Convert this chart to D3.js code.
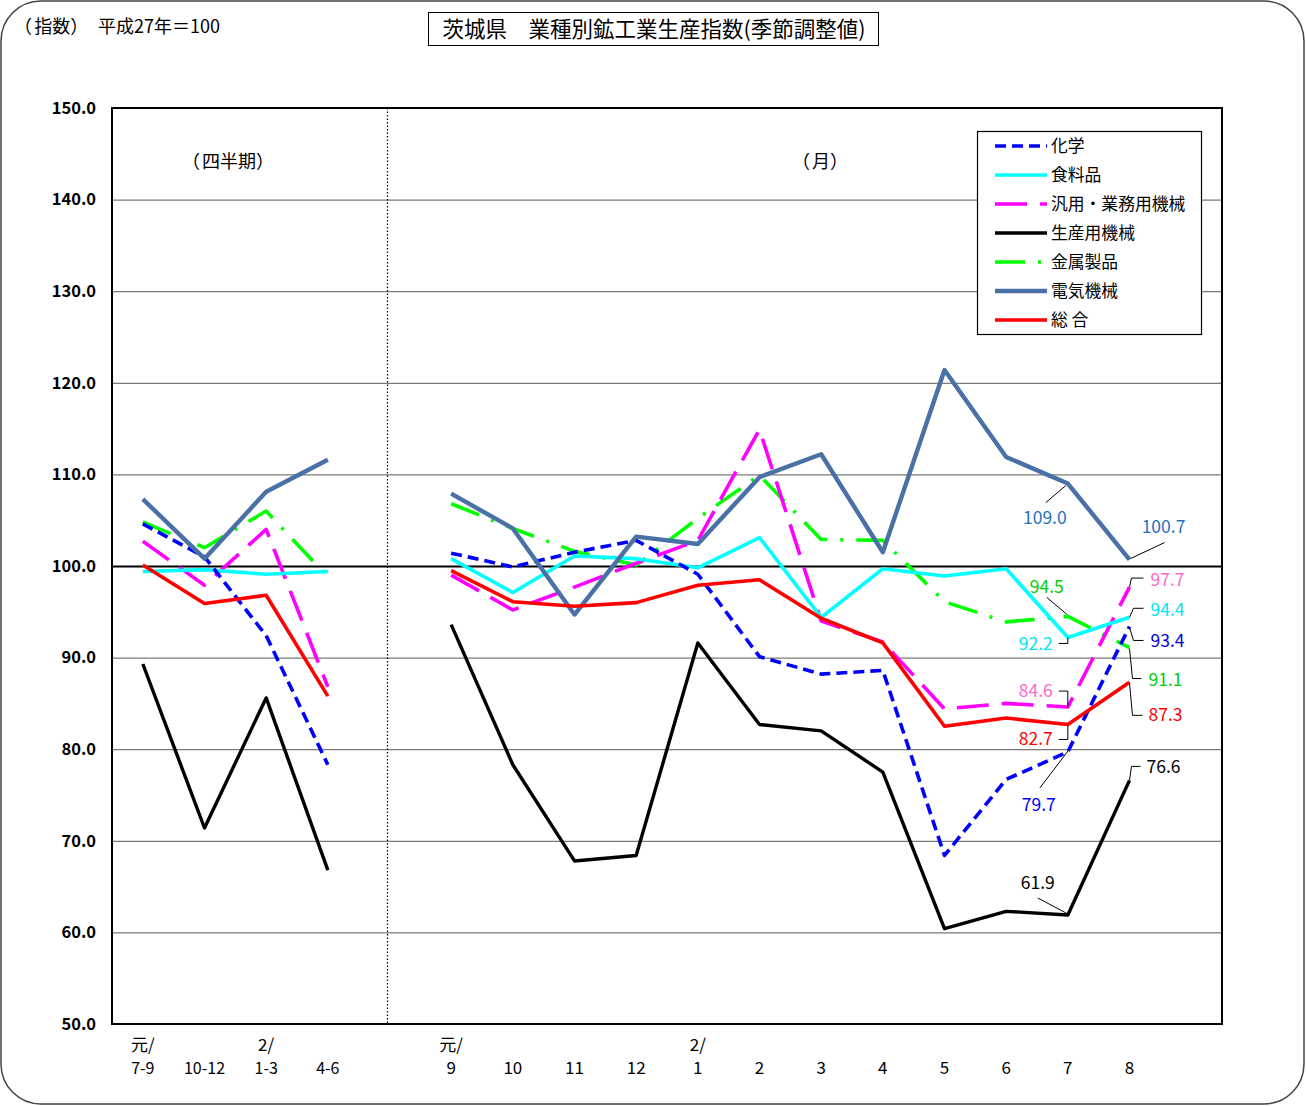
<!DOCTYPE html>
<html><head><meta charset="utf-8">
<script src="https://cdnjs.cloudflare.com/ajax/libs/d3/7.8.5/d3.min.js"></script>
<style>
body{margin:0;background:#fff;}
svg text{font-family:"Noto Sans CJK JP","Noto Sans",sans-serif;}
</style></head><body>
<svg id="c" width="1306" height="1106"></svg>
<script>
// ---------- data ----------
const quarterLabels = ["7-9","10-12","1-3","4-6"];
const quarterYearLabels = ["元/","","2/",""];
const monthLabels = ["9","10","11","12","1","2","3","4","5","6","7","8"];
const monthYearLabels = ["元/","","","","2/","","","","","","",""];
const yTicks = [50,60,70,80,90,100,110,120,130,140,150];
const seriesNames = ["化学","食料品","汎用・業務用機械","生産用機械","金属製品","電気機械","総 合"];

const chemQ  = [104.6,101.0,92.4,78.3];
const chemM  = [101.4,99.9,101.5,102.8,99.1,90.1,88.2,88.6,68.4,76.7,79.7,93.4];
const foodQ  = [99.4,99.6,99.1,99.4];
const foodM  = [100.8,97.1,101.1,100.8,99.8,103.1,94.4,99.7,98.9,99.7,92.2,94.4];
const genQ   = [102.7,97.9,104.0,86.8];
const genM   = [99.0,95.2,97.7,100.3,102.8,114.9,94.0,91.7,84.4,85.0,84.6,97.7];
const prodQ  = [89.3,71.4,85.6,66.8];
const prodM  = [93.6,78.3,67.8,68.4,91.6,82.7,82.0,77.5,60.4,62.3,61.9,76.6];
const metalQ = [104.8,102.0,106.0,98.8];
const metalM = [106.8,104.1,101.6,100.1,105.2,109.9,102.9,102.8,96.1,93.9,94.5,91.1];
const elecQ  = [107.3,100.8,108.1,111.6];
const elecM  = [107.9,104.1,94.7,103.2,102.4,109.7,112.2,101.5,121.4,111.9,109.0,100.7];
const totalQ = [100.1,95.9,96.8,85.8];
const totalM = [99.5,96.1,95.6,96.0,97.9,98.5,94.3,91.6,82.5,83.4,82.7,87.3];

// ---------- styles ----------
const seriesStyles = [
  {color:"#0000FF", width:3.6, dash:"11,6"},
  {color:"#00FFFF", width:3.6, dash:null},
  {color:"#FF00FF", width:3.6, dash:"32,13"},
  {color:"#000000", width:3.4, dash:null},
  {color:"#00FF00", width:3.6, dash:"30,13,3,13"},
  {color:"#4A71A6", width:4.4, dash:null},
  {color:"#FF0000", width:3.6, dash:null}
];
const seriesData = [
  [chemQ,chemM],[foodQ,foodM],[genQ,genM],[prodQ,prodM],[metalQ,metalM],[elecQ,elecM],[totalQ,totalM]
];

const svg = d3.select("#c");
const W = 1306, H = 1106;
const L = 112, R = 1222, T = 108, B = 1024;

// text with full-width bracket spacing restored
function cjkText(sel, str, size){
  const t = sel.append("text").attr("font-size", size);
  let pendingDx = 0, buf = "";
  const flush = () => { if (buf) { t.append("tspan").attr("dx", pendingDx ? pendingDx+"em" : null).text(buf); buf=""; pendingDx=0; } };
  Array.from(str).forEach(ch => {
    buf += ch;
    if (ch === "（") { flush(); pendingDx = 0.12; }
    else if (ch === "）") { flush(); pendingDx = 0.55; }
  });
  flush();
  return t;
}

svg.append("rect").attr("x",0).attr("y",0).attr("width",W).attr("height",H).attr("fill","#fff");
svg.append("rect").attr("x",1).attr("y",1).attr("width",W-3).attr("height",H-3)
  .attr("rx",40).attr("ry",40).attr("fill","none").attr("stroke","#444").attr("stroke-width",1.5);

// titles
cjkText(svg, "（指数）平成27年＝100", 18).attr("x",14).attr("y",33).attr("fill","#000");
svg.append("rect").attr("x",428.5).attr("y",12.5).attr("width",450).attr("height",33)
  .attr("fill","#fff").attr("stroke","#000").attr("stroke-width",1);
svg.append("text").attr("x",654).attr("y",37).attr("text-anchor","middle").attr("font-size",21.5)
  .attr("fill","#000").text("茨城県　業種別鉱工業生産指数(季節調整値)");

// scales
const keys = quarterLabels.map((d,i)=>"q"+i).concat(["gap"], monthLabels.map((d,i)=>"m"+i), ["pad"]);
const x = d3.scaleBand().domain(keys).range([L,R]).padding(0);
const cx = k => x(k) + x.bandwidth()/2;
const y = d3.scaleLinear().domain([50,150]).range([B,T]);

// grid via axis
const gridG = svg.append("g").attr("transform",`translate(${L},0)`)
  .call(d3.axisLeft(y).tickValues(yTicks).tickSize(-(R-L)).tickFormat(d3.format(".1f")).tickPadding(16));
gridG.select(".domain").remove();
gridG.selectAll(".tick line").attr("stroke","#7a7a7a").attr("stroke-width",1.2);
gridG.selectAll(".tick").filter(d=>d===100).select("line").attr("stroke","#000").attr("stroke-width",2);
gridG.selectAll(".tick").filter(d=>d===50||d===150).select("line").remove();
gridG.selectAll(".tick text").attr("font-size",16.5).attr("font-weight","bold").attr("fill","#000")
  .attr("font-family","'Noto Sans CJK JP',sans-serif");

// divider
svg.append("line").attr("x1",cx("gap")-2).attr("x2",cx("gap")-2).attr("y1",T).attr("y2",B)
  .attr("stroke","#000").attr("stroke-width",1.2).attr("stroke-dasharray","1.5,2");

// plot border
svg.append("rect").attr("x",L).attr("y",T).attr("width",R-L).attr("height",B-T)
  .attr("fill","none").attr("stroke","#000").attr("stroke-width",2);

// x labels
const xl = svg.append("g").attr("fill","#000");
quarterLabels.forEach((d,i)=>{
  xl.append("text").attr("x",cx("q"+i)).attr("y",1074).attr("text-anchor","middle")
    .attr("font-size",16).attr("font-family","'DejaVu Sans Mono','Noto Sans CJK JP',monospace").text(d);
  if (quarterYearLabels[i]) xl.append("text").attr("x",cx("q"+i)).attr("y",1051).attr("text-anchor","middle")
    .attr("font-size",17).text(quarterYearLabels[i]);
});
monthLabels.forEach((d,i)=>{
  xl.append("text").attr("x",cx("m"+i)).attr("y",1074).attr("text-anchor","middle")
    .attr("font-size",17).text(d);
  if (monthYearLabels[i]) xl.append("text").attr("x",cx("m"+i)).attr("y",1051).attr("text-anchor","middle")
    .attr("font-size",17).text(monthYearLabels[i]);
});

// panel labels
cjkText(svg, "（四半期）", 18).attr("x",228).attr("y",168).attr("text-anchor","middle");
cjkText(svg, "（月）", 18).attr("x",820).attr("y",168).attr("text-anchor","middle");

// lines
const line = d3.line().x(d=>cx(d.k)).y(d=>y(d.v));
const drawOrder = [4,2,1,0,3,5,6];
drawOrder.forEach(si=>{
  const st = seriesStyles[si];
  const [q,m] = seriesData[si];
  [q.map((v,i)=>({k:"q"+i,v})), m.map((v,i)=>({k:"m"+i,v}))].forEach(pts=>{
    svg.append("path").datum(pts).attr("d",line).attr("fill","none")
      .attr("stroke",st.color).attr("stroke-width",st.width)
      .attr("stroke-linejoin","round")
      .attr("stroke-dasharray",st.dash);
  });
});

// legend
const lg = svg.append("g");
lg.append("rect").attr("x",977.5).attr("y",131.5).attr("width",224).attr("height",203)
  .attr("fill","#fff").attr("stroke","#000").attr("stroke-width",1.2);
seriesNames.forEach((n,i)=>{
  const yy = 146 + i*29;
  const st = seriesStyles[i];
  lg.append("line").attr("x1",995).attr("x2",1047).attr("y1",yy).attr("y2",yy)
    .attr("stroke",st.color).attr("stroke-width",st.width).attr("stroke-dasharray",st.dash);
  lg.append("text").attr("x",1051).attr("y",yy+6).attr("font-size",16.8).attr("fill","#000").text(n);
});

// data labels (series index, month index, text color, text dx/dy, anchor, leader path in px offsets)
const annotations = [
  {s:5,i:10,c:"#1F70C0",dx:-23,dy:40,a:"middle",p:[[-2,2],[-22,19]]},
  {s:5,i:11,c:"#1F70C0",dx:34,dy:-27,a:"middle",p:[[1,-1],[35,-17]]},
  {s:4,i:10,c:"#00D000",dx:-21,dy:-23,a:"middle",p:[[-1,-2],[-21,-19]]},
  {s:1,i:10,c:"#00E5F0",dx:-15,dy:13,a:"end",p:[[0,0],[0,6],[-9,6]]},
  {s:2,i:11,c:"#FF66CC",dx:21,dy:-1,a:"start",p:[[0,0],[2,-9],[14,-9]]},
  {s:1,i:11,c:"#00E5F0",dx:21,dy:-1,a:"start",p:[[0,0],[4,-9],[14,-9]]},
  {s:0,i:11,c:"#0000E0",dx:21,dy:21,a:"start",p:[[0,1],[4,14],[14,14]]},
  {s:4,i:11,c:"#00D000",dx:19,dy:38,a:"start",p:[[0,1],[3,31],[12,31]]},
  {s:6,i:11,c:"#FF0000",dx:19,dy:39,a:"start",p:[[0,1],[3,33],[13,33]]},
  {s:2,i:10,c:"#FF66CC",dx:-15,dy:-10,a:"end",p:[[0,0],[0,-16],[-9,-16]]},
  {s:6,i:10,c:"#FF0000",dx:-15,dy:21,a:"end",p:[[0,1],[0,15],[-9,15]]},
  {s:0,i:10,c:"#0000FF",dx:-29,dy:59,a:"middle",p:[[1,-2],[-28,36]]},
  {s:3,i:10,c:"#000000",dx:-30,dy:-26,a:"middle",p:[[0,-1],[-30,-17]]},
  {s:3,i:11,c:"#000000",dx:17,dy:-7,a:"start",p:[[0,0],[2,-14],[11,-14]]}
];
const ag = svg.append("g");
annotations.forEach(an=>{
  const v = seriesData[an.s][1][an.i];
  const px = cx("m"+an.i), py = y(v);
  ag.append("path").attr("d", d3.line()(an.p.map(([a,b])=>[px+a,py+b])))
    .attr("fill","none").attr("stroke","#000").attr("stroke-width",1);
  ag.append("text").attr("x",px+an.dx).attr("y",py+an.dy).attr("text-anchor",an.a)
    .attr("font-size",17.5).attr("fill",an.c).text(d3.format(".1f")(v));
});
</script>
</body></html>
